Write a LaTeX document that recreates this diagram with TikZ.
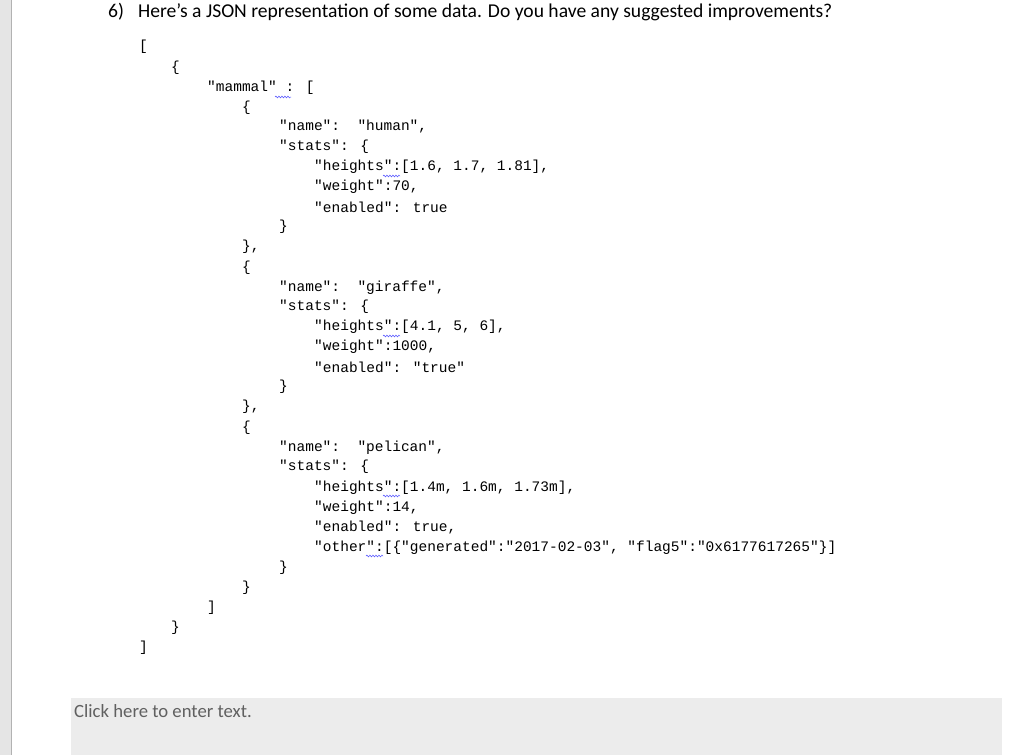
\documentclass[tikz,border=0pt]{standalone}
\usepackage{fontspec}
\setmainfont{Carlito}
\newfontfamily\codefont{Liberation Mono}
\usetikzlibrary{decorations.pathmorphing}
\begin{document}
\begin{tikzpicture}[x=1pt,y=-1pt,
  code/.style={anchor=west,inner sep=0pt,font=\codefont\fontsize{14.5}{16}\selectfont},
  squig/.style={draw=blue!70!white,line width=0.5pt,decorate,decoration={snake,amplitude=0.9pt,segment length=3pt}}]
\useasboundingbox (0,0) rectangle (1024,755);
\fill[gray!20] (0,0) rectangle (11,755);
\draw[gray!60] (11,0) -- (11,755);
\fill[gray!15] (71,698) rectangle (1002,755);
\node[anchor=west,inner sep=0pt,font=\fontsize{19.6}{22}\selectfont] (q) at (108,12) {6)\hspace{14pt}Here’s a JSON representation of some data. Do you have any suggested improvements?};
\node[anchor=west,inner sep=0pt,font=\fontsize{18.7}{20}\selectfont,text=gray!75!black] (click) at (74,711) {Click here to enter text.};
\node[code] (l1) at (139,47) {[};
\node[code] (l2) at (171,68) {\{};
\node[code] (l3) at (207,88) {"mammal" : [};
\node[code] (l4) at (242,108) {\{};
\node[code] (l5) at (279,127) {"name":~~"human",};
\node[code] (l6) at (279,147) {"stats": \{};
\node[code] (l7) at (314,167) {"heights":[1.6, 1.7, 1.81],};
\node[code] (l8) at (314,187) {"weight":70,};
\node[code] (l9) at (314,207) {"enabled": true};
\node[code] (l10) at (279,227) {\}};
\node[code] (l11) at (242,247) {\},};
\node[code] (l12) at (242,268) {\{};
\node[code] (l13) at (279,288) {"name":~~"giraffe",};
\node[code] (l14) at (279,307) {"stats": \{};
\node[code] (l15) at (314,327) {"heights":[4.1, 5, 6],};
\node[code] (l16) at (314,347) {"weight":1000,};
\node[code] (l17) at (314,367) {"enabled": "true"};
\node[code] (l18) at (279,387) {\}};
\node[code] (l19) at (242,407) {\},};
\node[code] (l20) at (242,428) {\{};
\node[code] (l21) at (279,448) {"name":~~"pelican",};
\node[code] (l22) at (279,467) {"stats": \{};
\node[code] (l23) at (314,488) {"heights":[1.4m, 1.6m, 1.73m],};
\node[code] (l24) at (314,508) {"weight":14,};
\node[code] (l25) at (314,528) {"enabled": true,};
\node[code] (l26) at (314,548) {"other":[\{"generated":"2017-02-03", "flag5":"0x6177617265"\}]};
\node[code] (l27) at (279,568) {\}};
\node[code] (l28) at (242,588) {\}};
\node[code] (l29) at (207,608) {]};
\node[code] (l30) at (171,628) {\}};
\node[code] (l31) at (139,648) {]};
\draw[squig] (275,97) -- (291,97);
\draw[squig] (383,176) -- (400,176);
\draw[squig] (383,336) -- (400,336);
\draw[squig] (383,496) -- (400,496);
\draw[squig] (366,556) -- (383,556);
\end{tikzpicture}
\end{document}
